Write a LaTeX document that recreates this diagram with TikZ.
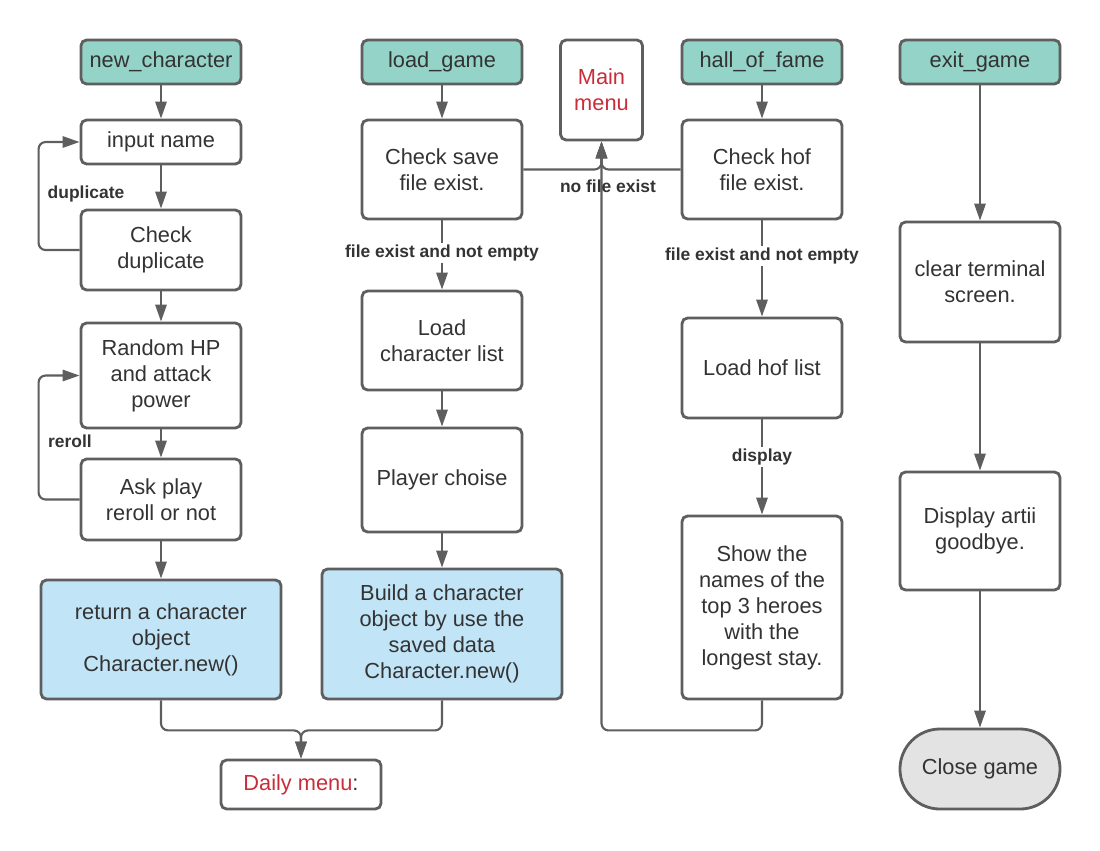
\documentclass[tikz,border=0pt]{standalone}
\usepackage{fontspec}
\setmainfont{Liberation Sans}
\usetikzlibrary{arrows.meta}
\definecolor{lc}{HTML}{5E5E5E}
\definecolor{txt}{HTML}{333333}
\definecolor{teal}{HTML}{94D3C8}
\definecolor{lblue}{HTML}{C1E4F6}
\definecolor{lgray}{HTML}{E3E3E3}
\definecolor{lred}{HTML}{C92D39}
\tikzset{
  box/.style={draw=lc, line width=2pt, rounded corners=4pt, fill=white, align=center,
    text=txt, inner sep=0pt, font=\fontsize{15.5}{18.5}\selectfont,
    minimum width=4cm},
  head/.style={box, fill=teal, minimum height=1.1cm},
  conn/.style={draw=lc, line width=1.5pt, rounded corners=5pt, -{Triangle[length=12pt,width=8pt]}},
  lbl/.style={text=txt, font=\fontsize{12.4}{14}\bfseries\selectfont, inner sep=1pt},
}
\begin{document}
\begin{tikzpicture}[x=0.025cm, y=-0.025cm]
\useasboundingbox (0,0) rectangle (1100,850);
% column 1
\node[head] (nc) at (161,62) {new\_character};
\node[box, minimum height=1.1cm] (inp) at (161,142) {input name};
\node[box, minimum height=2cm] (chk) at (161,250) {Check\\duplicate};
\node[box, minimum height=2.625cm] (rnd) at (161,375.5) {Random HP\\and attack\\power};
\node[box, minimum height=2.025cm] (ask) at (161,499.5) {Ask play\\reroll or not};
\node[box, fill=lblue, minimum width=6cm, minimum height=2.975cm] (ret) at (161,639.5) {return a character\\object\\Character.new()};
% column 2
\node[head] (lg) at (442,62) {load\_game};
\node[box, minimum height=2.475cm] (save) at (442,169.5) {Check save\\file exist.};
\node[box, minimum height=2.475cm] (lcl) at (442,340.5) {Load\\character list};
\node[box, minimum height=2.6cm] (pc) at (442,480) {Player choise};
\node[box, fill=lblue, minimum width=6cm, minimum height=3.25cm] (bld) at (442,634) {Build a character\\object by use the\\saved data\\Character.new()};
\node[box, minimum height=1.225cm] (daily) at (301,784.5) {\textcolor{lred}{Daily menu}:};
% main menu
\node[box, minimum width=2.05cm, minimum height=2.5cm, text=lred] (main) at (601.5,90) {Main\\menu};
% column 3
\node[head] (hf) at (762,62) {hall\_of\_fame};
\node[box, minimum height=2.475cm] (hof) at (762,169.5) {Check hof\\file exist.};
\node[box, minimum height=2.5cm] (lhl) at (762,368) {Load hof list};
\node[box, minimum height=4.575cm] (show) at (762,607.5) {Show the\\names of the\\top 3 heroes\\with the\\longest stay.};
% column 4
\node[head] (eg) at (980,62) {exit\_game};
\node[box, minimum height=3cm] (clr) at (980,282) {clear terminal\\screen.};
\node[box, minimum height=2.95cm] (disp) at (980,531) {Display artii\\goodbye.};
\node[box, fill=lgray, rounded corners=1cm, minimum height=2cm] (close) at (980,769) {Close game};
% straight arrows
\draw[conn] (nc) -- (inp);
\draw[conn] (inp) -- (chk);
\draw[conn] (chk) -- (rnd);
\draw[conn] (rnd) -- (ask);
\draw[conn] (ask) -- (ret);
\draw[conn] (lg) -- (save);
\draw[conn] (save) -- (lcl);
\draw[conn] (lcl) -- (pc);
\draw[conn] (pc) -- (bld);
\draw[conn] (hf) -- (hof);
\draw[conn] (hof) -- (lhl);
\draw[conn] (lhl) -- (show);
\draw[conn] (eg) -- (clr);
\draw[conn] (clr) -- (disp);
\draw[conn] (disp) -- (close);
% loops
\draw[conn] (chk.west) -- ++(-41,0) |- (inp.west);
\draw[conn] (ask.west) -- ++(-41,0) |- (rnd.west);
% junction to daily menu
\draw[conn] (ret.south) -- ++(0,30) -| (daily.north);
\draw[conn] (bld.south) -- ++(0,30) -| (daily.north);
% to main menu
\draw[conn] (save.east) -| (main.south);
\draw[conn] (hof.west) -| (main.south);
\draw[conn] (show.south) -- ++(0,30) -| (main.south);
% labels
\node[lbl] (l1) at (86,194) {duplicate};
\node[lbl] (l2) at (70,441) {reroll};
\node[lbl, fill=white] (l3) at (442,253) {file exist and not empty};
\node[lbl, fill=white] (l4) at (762,256) {file exist and not empty};
\node[lbl, fill=white] (l5) at (762,457) {display};
\node[lbl] (l6) at (608,186) {no file exist};
\end{tikzpicture}
\end{document}
